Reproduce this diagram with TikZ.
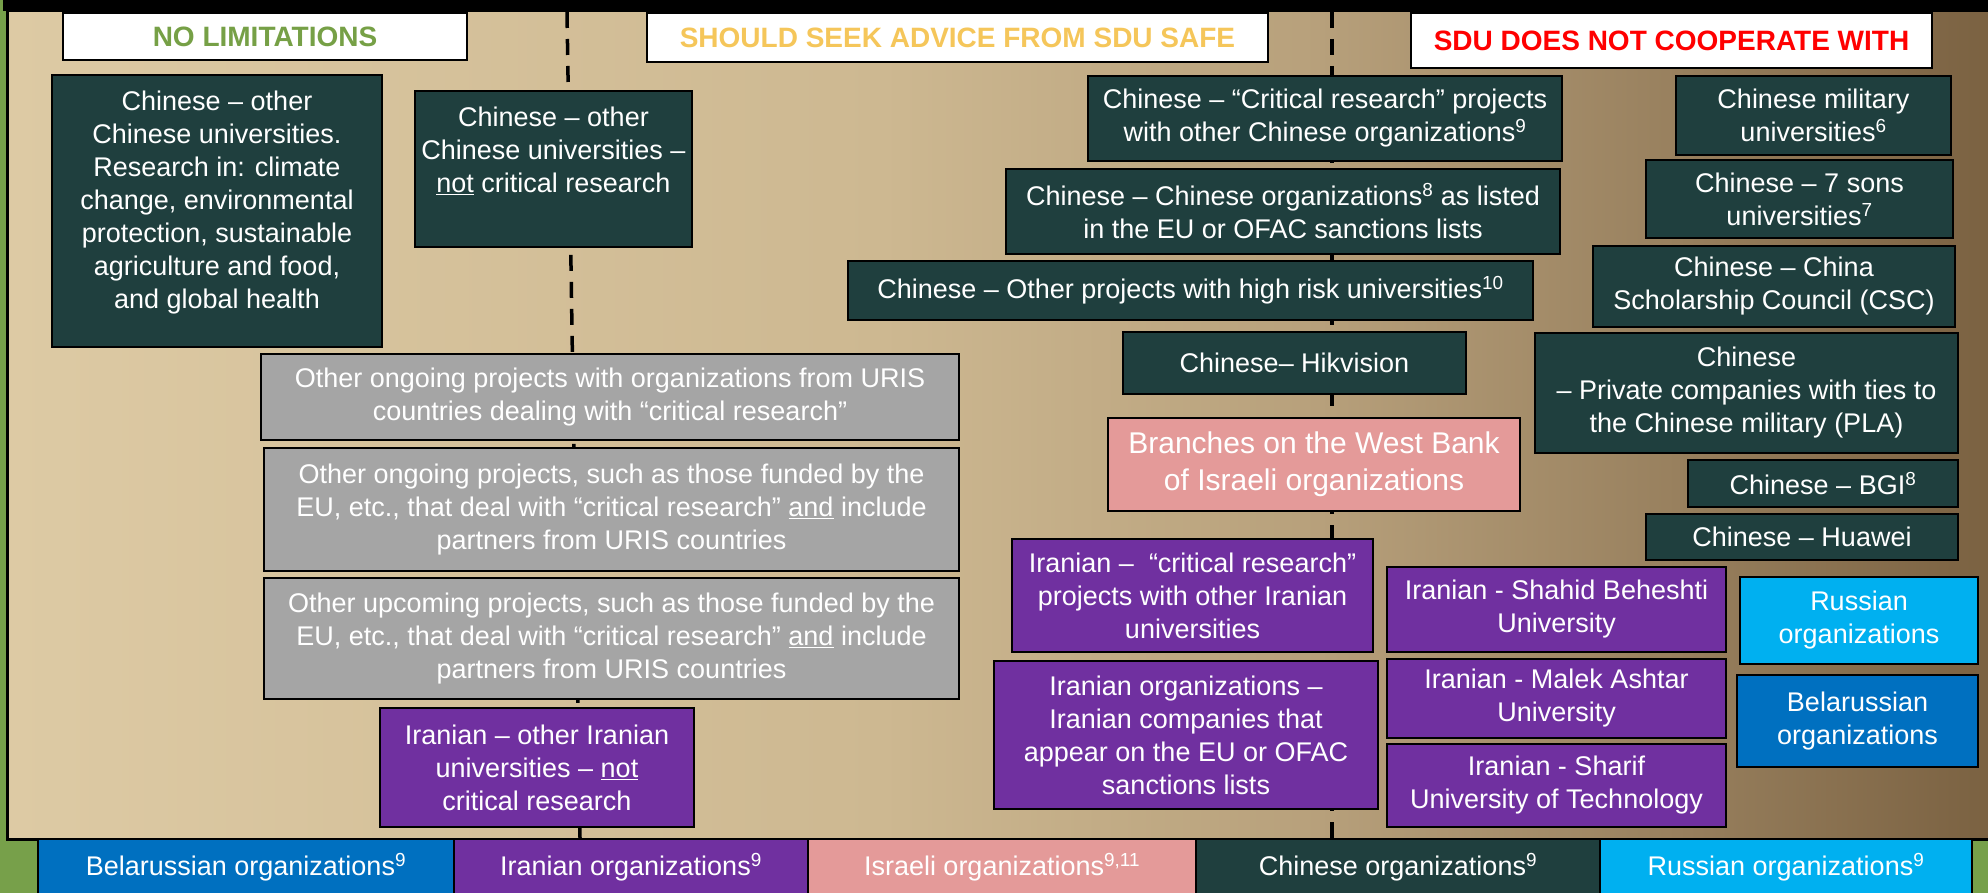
\documentclass[tikz,border=0pt]{standalone}
\usepackage{fontspec}
\setmainfont{Liberation Sans}

\definecolor{outergreen}{RGB}{119,160,74}
\definecolor{darkteal}{RGB}{31,63,62}
\definecolor{boxgray}{RGB}{165,165,165}
\definecolor{iranpurple}{RGB}{112,48,160}
\definecolor{israelpink}{RGB}{228,154,153}
\definecolor{russiablue}{RGB}{0,176,240}
\definecolor{belarusblue}{RGB}{0,112,192}
\definecolor{headgreen}{RGB}{118,160,70}
\definecolor{headgold}{RGB}{245,198,90}
\definecolor{panelA}{RGB}{221,202,164}
\definecolor{panelB}{RGB}{205,184,145}
\definecolor{panelC}{RGB}{183,160,123}
\definecolor{panelD}{RGB}{152,128,94}
\definecolor{panelE}{RGB}{122,97,65}

\pgfdeclarehorizontalshading{panelshade}{100bp}{color(0bp)=(panelA); color(25bp)=(panelA); color(47bp)=(panelB); color(58bp)=(panelC); color(67bp)=(panelD); color(75bp)=(panelE); color(100bp)=(panelE)}

\newcommand\orgfont{\fontsize{27}{33}\selectfont}
\newcommand\bankfont{\fontsize{30}{37}\selectfont}
\newcommand\headfont{\fontsize{28}{34}\selectfont\bfseries}

\tikzset{
  sz/.style 2 args={minimum width=#1pt, minimum height=#2pt},
  orgbox/.style={draw=black, line width=1.6pt, text=white, align=center, inner sep=0pt, font=\orgfont},
  chnbox/.style={orgbox, fill=darkteal},
  irnbox/.style={orgbox, fill=iranpurple},
  graybox/.style={orgbox, fill=boxgray},
  isrbox/.style={orgbox, fill=israelpink},
  rusbox/.style={orgbox, fill=russiablue},
  belbox/.style={orgbox, fill=belarusblue},
  headbox/.style={draw=black, line width=1.6pt, fill=white, inner sep=0pt, font=\headfont},
  divider/.style={line width=3.5pt, dash pattern=on 16pt off 11pt},
}

\begin{document}
\begin{tikzpicture}[x=1pt, y=-1pt]
  \useasboundingbox (0,0) rectangle (1988,893);
  \fill[outergreen] (0,0) rectangle (1988,893);
  \shade[shading=panelshade] (7,11) rectangle (1995,839);
  \draw[line width=3pt] (7,11) rectangle (1995,839);
  \fill[black] (3,0) rectangle (1988,11);

  \coordinate (ltop) at (567,12);
  \coordinate (lbot) at (580,838);
  \coordinate (rtop) at (1332,12);
  \coordinate (rbot) at (1332,838);
  \draw[divider] (ltop) -- (lbot);
  \draw[divider] (rtop) -- (rbot);

  \node[headbox, text=headgreen, sz={404}{47}] (hdNone) at (265,36.5) {NO LIMITATIONS};
  \node[headbox, text=headgold, sz={621}{49}] (hdAdvice) at (957.5,37.5) {SHOULD SEEK ADVICE FROM SDU SAFE};
  \node[headbox, text=red, sz={521}{55}] (hdNever) at (1671.5,40.5) {SDU DOES NOT COOPERATE WITH};

  \node[chnbox, sz={330}{272}] (chnClimate) at (217,211) {\begin{tabular}{@{}c@{}}Chinese – other\\Chinese universities.\\Research in: climate\\change, environmental\\protection, sustainable\\agriculture and food,\\and global health\\[16pt]\end{tabular}};
  \node[chnbox, sz={277}{156}] (chnUniv) at (553.5,169) {\begin{tabular}{@{}c@{}}Chinese – other\\Chinese universities –\\\underline{not} critical research\\[32pt]\end{tabular}};
  \node[graybox, sz={698}{86}] (urisOngoing) at (610,397) {Other ongoing projects with organizations from URIS\\countries dealing with “critical research”};
  \node[graybox, sz={695}{123}] (euOngoing) at (611.5,509.5) {Other ongoing projects, such as those funded by the\\EU, etc., that deal with “critical research” \underline{and} include\\partners from URIS countries};
  \node[graybox, sz={695}{121}] (euUpcoming) at (611.5,638.5) {Other upcoming projects, such as those funded by the\\EU, etc., that deal with “critical research” \underline{and} include\\partners from URIS countries};
  \node[irnbox, sz={314}{119}] (irnUniv) at (537,767.5) {Iranian – other Iranian\\universities – \underline{not}\\critical research};

  \node[chnbox, sz={474}{85}] (chnCritical) at (1325,118.5) {Chinese – “Critical research” projects\\with other Chinese organizations\textsuperscript{9}};
  \node[chnbox, sz={554}{85}] (chnSanction) at (1283,211.5) {Chinese – Chinese organizations\textsuperscript{8} as listed\\in the EU or OFAC sanctions lists};
  \node[chnbox, sz={685}{59}] (chnHighRisk) at (1190.5,290.5) {Chinese – Other projects with high risk universities\textsuperscript{10}};
  \node[chnbox, sz={343}{62}] (chnHik) at (1294.5,363) {Chinese– Hikvision};
  \node[isrbox, sz={412}{93}, font=\bankfont] (isrBank) at (1314,464.5) {Branches on the West Bank\\of Israeli organizations};
  \node[irnbox, sz={361}{113}] (irnCritical) at (1192.5,595.5) {Iranian –\ \ “critical research”\\projects with other Iranian\\universities};
  \node[irnbox, sz={384}{148}] (irnSanction) at (1186,735) {Iranian organizations –\\Iranian companies that\\appear on the EU or OFAC\\sanctions lists};

  \node[chnbox, sz={275}{79}] (chnMilitary) at (1813.5,115.5) {Chinese military\\universities\textsuperscript{6}};
  \node[chnbox, sz={307}{78}] (chnSons) at (1799.5,199) {Chinese – 7 sons\\universities\textsuperscript{7}};
  \node[chnbox, sz={362}{81}] (chnCSC) at (1774,286.5) {Chinese – China\\Scholarship Council (CSC)};
  \node[chnbox, sz={423}{120}] (chnPLA) at (1746.5,393) {Chinese\\– Private companies with ties to\\the Chinese military (PLA)};
  \node[chnbox, sz={270}{47}] (chnBGI) at (1823,483.5) {Chinese – BGI\textsuperscript{8}};
  \node[chnbox, sz={312}{46}] (chnHuawei) at (1802,537) {Chinese – Huawei};
  \node[irnbox, sz={339}{85}] (irnBeheshti) at (1556.5,609.5) {Iranian - Shahid Beheshti\\University};
  \node[irnbox, sz={339}{79}] (irnMalek) at (1556.5,698.5) {Iranian - Malek Ashtar\\University};
  \node[irnbox, sz={339}{83}] (irnSharif) at (1556.5,785.5) {Iranian - Sharif\\University of Technology};
  \node[rusbox, sz={238}{87}] (rusNever) at (1859,620.5) {Russian\\organizations};
  \node[belbox, sz={241}{92}] (belNever) at (1857.5,721) {Belarussian\\organizations};

  \node[belbox, sz={416}{56}] (belOrgs) at (246,867) {Belarussian organizations\textsuperscript{9}};
  \node[irnbox, sz={354}{56}] (irnOrgs) at (631,867) {Iranian organizations\textsuperscript{9}};
  \node[isrbox, sz={388}{56}] (isrOrgs) at (1002,867) {Israeli organizations\textsuperscript{9,11}};
  \node[chnbox, sz={404}{56}] (chnOrgs) at (1398,867) {Chinese organizations\textsuperscript{9}};
  \node[rusbox, sz={372}{56}] (rusOrgs) at (1786,867) {Russian organizations\textsuperscript{9}};
\end{tikzpicture}
\end{document}
